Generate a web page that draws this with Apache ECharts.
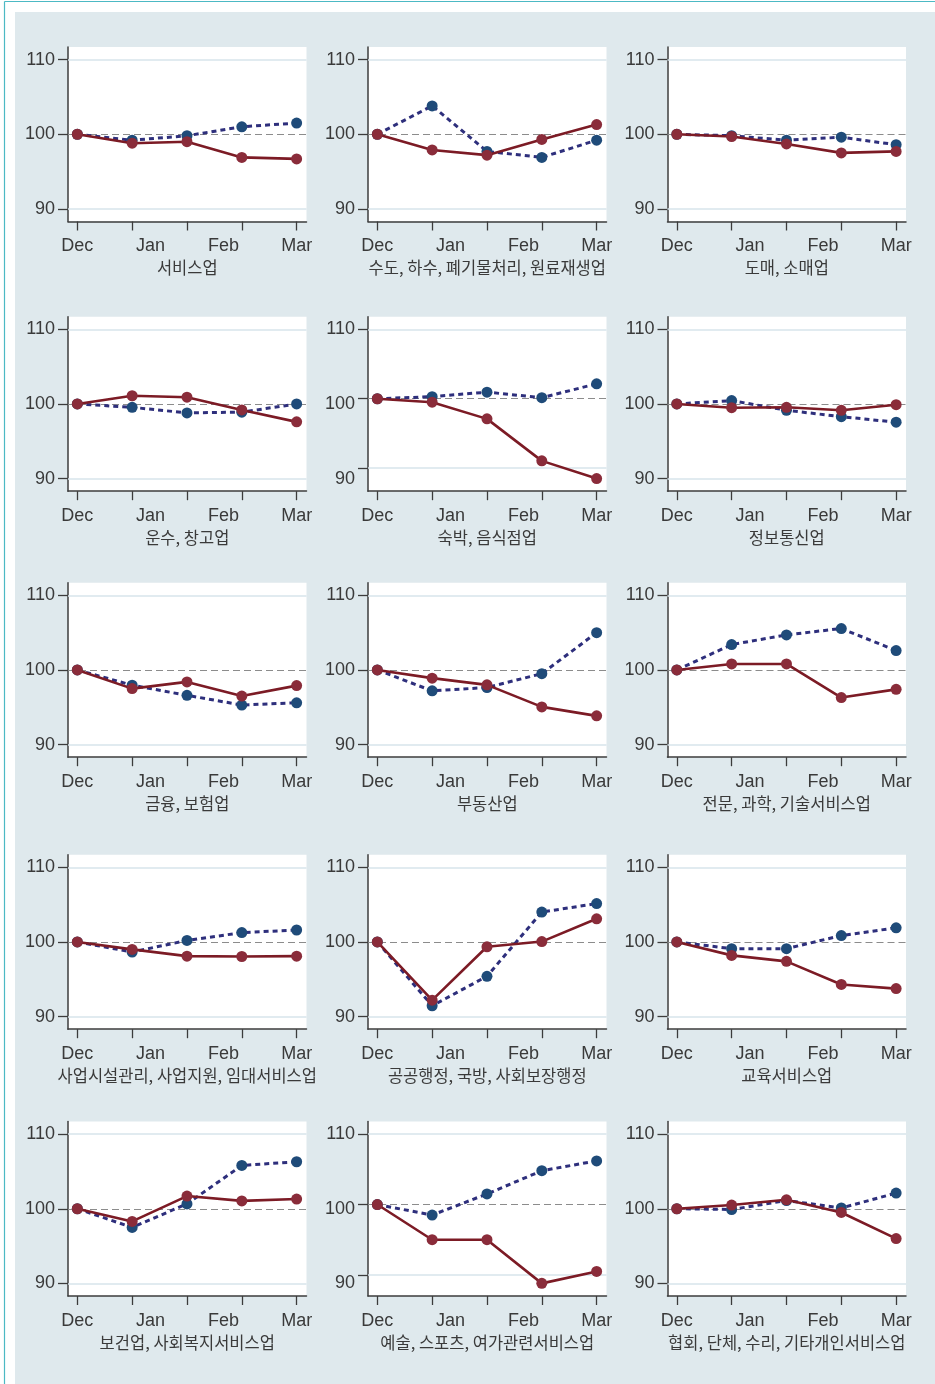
<!DOCTYPE html>
<html>
<head>
<meta charset="utf-8">
<script src="https://cdn.jsdelivr.net/npm/echarts@6/dist/echarts.min.js"></script>
<style>
  html, body { margin: 0; padding: 0; background: #ffffff; }
  #chart { width: 935px; height: 1384px; }
</style>
</head>
<body>
<div id="chart"></div>
<script>
// Month labels along the bottom axis (five observations, four labels)
const months = ['Dec', 'Jan', 'Feb', 'Mar'];

// Industry panels, read left to right, top to bottom
const sectors = [
  '서비스업', '수도, 하수, 폐기물처리, 원료재생업', '도매, 소매업',
  '운수, 창고업', '숙박, 음식점업', '정보통신업',
  '금융, 보험업', '부동산업', '전문, 과학, 기술서비스업',
  '사업시설관리, 사업지원, 임대서비스업', '공공행정, 국방, 사회보장행정', '교육서비스업',
  '보건업, 사회복지서비스업', '예술, 스포츠, 여가관련서비스업', '협회, 단체, 수리, 기타개인서비스업'
];

// Dashed navy series (index, Dec = 100)
const dashedVals = [
  [100, 99.2, 99.8, 101.0, 101.5],
  [100, 103.8, 97.7, 96.9, 99.2],
  [100, 99.8, 99.2, 99.6, 98.6],
  [100, 99.55, 98.8, 98.9, 100.0],
  [100, 100.3, 100.95, 100.15, 102.15],
  [100, 100.45, 99.15, 98.3, 97.55],
  [100, 97.95, 96.6, 95.3, 95.6],
  [100, 97.2, 97.65, 99.5, 105.0],
  [100, 103.4, 104.7, 105.55, 102.6],
  [100, 98.65, 100.2, 101.25, 101.6],
  [100, 91.45, 95.4, 104.0, 105.15],
  [100, 99.1, 99.1, 100.85, 101.9],
  [100, 97.5, 100.65, 105.8, 106.3],
  [100, 98.5, 101.5, 104.8, 106.2],
  [100, 99.9, 101.1, 100.1, 102.1]
];

// Solid maroon series (index, Dec = 100)
const solidVals = [
  [100, 98.8, 99.0, 96.9, 96.7],
  [100, 97.9, 97.2, 99.3, 101.3],
  [100, 99.7, 98.7, 97.5, 97.7],
  [100, 101.1, 100.9, 99.2, 97.6],
  [100, 99.5, 97.1, 91.05, 88.5],
  [100, 99.5, 99.55, 99.15, 99.9],
  [100, 97.5, 98.4, 96.5, 97.9],
  [100, 98.9, 98.0, 95.05, 93.85],
  [100, 100.8, 100.8, 96.3, 97.4],
  [100, 99.0, 98.1, 98.05, 98.1],
  [100, 92.2, 99.35, 100.05, 103.1],
  [100, 98.2, 97.4, 94.3, 93.75],
  [100, 98.3, 101.7, 101.05, 101.3],
  [100, 95.0, 95.0, 88.8, 90.5],
  [100, 100.5, 101.2, 99.5, 96.0]
];

// Axis tick values
const yTicks = [90, 100, 110];
const xTicks = [0, 1, 2, 3, 4];
const monthPos = [0, 4 / 3, 8 / 3, 4];

// Panel geometry
const colLeft = [68, 368, 667.5];
const rowTop = [47, 316.7, 582.7, 854.7, 1121.5];
const plotW = 238.5;
const plotH = 174.5;
const padShare = 0.0846;   // share of the value span left blank above and below

const latinFont = "'Liberation Sans', Arial, sans-serif";
const hangulFont = "'Noto Sans CJK KR', sans-serif";
const textColor = '#3a3a3a';
const axisColor = '#3c3c3c';
const navyLine = '#2e2f7c';
const navyDot = '#1f4b79';
const maroonLine = '#7c1b25';
const maroonDot = '#8a2c3a';

const grids = [], xAxes = [], yAxes = [], series = [];

// fixed label scale shared by every panel (90-110 plus the blank margin)
const stdPad = (110 - 90) * padShare;

sectors.forEach((name, i) => {
  const r = Math.floor(i / 3), c = i % 3;
  const all = dashedVals[i].concat(solidVals[i]);
  const lo = Math.min(90, ...all);
  const hi = Math.max(110, ...all);
  const pad = (hi - lo) * padShare;

  grids.push({
    left: colLeft[c], top: rowTop[r], width: plotW, height: plotH,
    show: true, backgroundColor: '#ffffff', borderWidth: 0
  });

  xAxes.push({
    gridIndex: i, type: 'value', min: -0.17, max: 4.18, position: 'bottom',
    axisLine: { show: true, onZero: false, lineStyle: { color: axisColor, width: 1.5 } },
    axisTick: { show: true, length: 9, customValues: xTicks, lineStyle: { color: axisColor, width: 1.3 } },
    axisLabel: {
      show: true, customValues: monthPos, margin: 16,
      fontFamily: latinFont, fontSize: 18, color: textColor,
      formatter: v => months[Math.round(v * 3 / 4)]
    },
    splitLine: { show: false },
    name: name, nameLocation: 'middle', nameGap: 38,
    nameTextStyle: { fontFamily: hangulFont, fontSize: 16.5, color: textColor }
  });

  // value axis carrying the data, with its line and ticks
  yAxes.push({
    gridIndex: i, type: 'value', min: lo - pad, max: hi + pad, position: 'left',
    axisLine: { show: true, onZero: false, lineStyle: { color: axisColor, width: 1.5 } },
    axisTick: { show: true, length: 10, customValues: yTicks, lineStyle: { color: axisColor, width: 1.3 } },
    axisLabel: { show: false },
    splitLine: { show: false }
  });

  // tick text, laid out on the common 90-110 scale
  yAxes.push({
    gridIndex: i, type: 'value', min: 90 - stdPad, max: 110 + stdPad, position: 'left',
    axisLine: { show: false, onZero: false },
    axisTick: { show: false },
    axisLabel: {
      show: true, customValues: yTicks, margin: 13,
      fontFamily: latinFont, fontSize: 18, color: textColor
    },
    splitLine: { show: false }
  });

  series.push({
    type: 'line', xAxisIndex: i, yAxisIndex: 2 * i, z: 3,
    data: dashedVals[i].map((v, k) => [xTicks[k], v]),
    symbol: 'circle', symbolSize: 11,
    itemStyle: { color: navyDot },
    lineStyle: { color: navyLine, width: 3, type: [5, 4] },
    animation: false, silent: true,
    markLine: {
      z: 1, silent: true, symbol: 'none', animation: false,
      label: { show: false },
      data: [
        { yAxis: 110, lineStyle: { color: '#d7e5eb', width: 1.6, type: 'solid' } },
        { yAxis: 90, lineStyle: { color: '#d7e5eb', width: 1.6, type: 'solid' } },
        { yAxis: 100, lineStyle: { color: '#8c8c8c', width: 1.2, type: [7, 4] } }
      ]
    }
  });

  series.push({
    type: 'line', xAxisIndex: i, yAxisIndex: 2 * i, z: 4,
    data: solidVals[i].map((v, k) => [xTicks[k], v]),
    symbol: 'circle', symbolSize: 11,
    itemStyle: { color: maroonDot },
    lineStyle: { color: maroonLine, width: 2.6, type: 'solid' },
    animation: false, silent: true
  });
});

const chart = echarts.init(document.getElementById('chart'), null, { renderer: 'canvas' });
chart.setOption({
  animation: false,
  graphic: [
    { type: 'rect', z: -100, silent: true, shape: { x: 15, y: 12, width: 920, height: 1372 }, style: { fill: '#dfe9ed' } },
    { type: 'line', z: -99, silent: true, shape: { x1: 4.5, y1: 1.5, x2: 4.5, y2: 1384 }, style: { stroke: '#4cb9c4', lineWidth: 1.2 } },
    { type: 'line', z: -99, silent: true, shape: { x1: 4.5, y1: 1.5, x2: 935, y2: 1.5 }, style: { stroke: '#4cb9c4', lineWidth: 1.2 } }
  ],
  grid: grids,
  xAxis: xAxes,
  yAxis: yAxes,
  series: series
});
</script>
</body>
</html>
